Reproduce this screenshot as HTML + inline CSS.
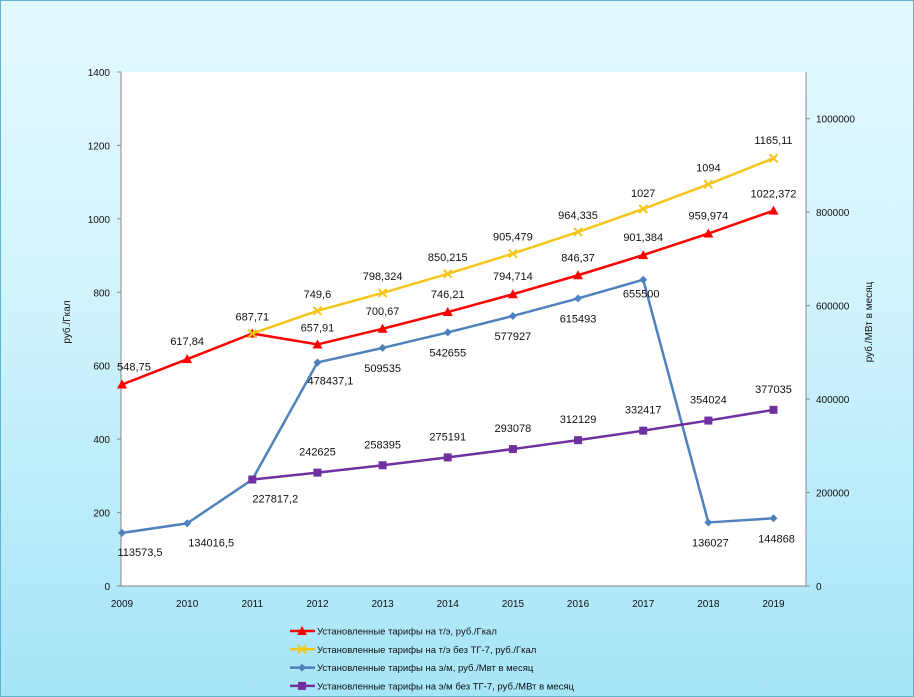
<!DOCTYPE html>
<html><head><meta charset="utf-8"><style>
html,body{margin:0;padding:0;}
body{width:914px;height:697px;overflow:hidden;font-family:"Liberation Sans","DejaVu Sans",sans-serif;}
#wrap{position:absolute;left:0;top:0;width:912px;height:695px;border:1px solid #5fb4cf;background:linear-gradient(#e3f9fe,#d3f4fd 40%,#a6e5f8);}
</style></head><body>
<div id="wrap">
<svg id="chart" width="914" height="697" style="position:absolute;left:-1px;top:-1px"></svg>
</div>
<script>
const years=["2009","2010","2011","2012","2013","2014","2015","2016","2017","2018","2019"];
const redVals=[548.75,617.84,687.71,657.91,700.67,746.21,794.714,846.37,901.384,959.974,1022.372];
const redLabels=["548,75","617,84","687,71","657,91","700,67","746,21","794,714","846,37","901,384","959,974","1022,372"];
const yellowVals=[null,null,687.71,749.6,798.324,850.215,905.479,964.335,1027,1094,1165.11];
const yellowLabels=["","","","749,6","798,324","850,215","905,479","964,335","1027","1094","1165,11"];
const blueVals=[113573.5,134016.5,227817.2,478437.1,509535,542655,577927,615493,655500,136027,144868];
const blueLabels=["113573,5","134016,5","227817,2","478437,1","509535","542655","577927","615493","655500","136027","144868"];
const purpleVals=[null,null,227817.2,242625,258395,275191,293078,312129,332417,354024,377035];
const purpleLabels=["","","","242625","258395","275191","293078","312129","332417","354024","377035"];
const leftTicks=[0,200,400,600,800,1000,1200,1400];
const rightTicks=[0,200000,400000,600000,800000,1000000];
const legendNames=["Установленные тарифы на т/э, руб./Гкал","Установленные тарифы на т/э без ТГ-7, руб./Гкал","Установленные тарифы на э/м, руб./Мвт в месяц","Установленные тарифы на э/м без ТГ-7, руб./МВт в месяц"];

const NS="http://www.w3.org/2000/svg";
const svg=document.getElementById('chart');
const PL=121,PR=806,PT=72,PB=586;
const x=i=>122+i*65.15;
const yL=v=>PB-(v/1400)*(PB-PT);
const yR=v=>PB-(v/1100000)*(PB-PT);
function mk(tag,attrs,parent){const e=document.createElementNS(NS,tag);for(const k in attrs)e.setAttribute(k,attrs[k]);(parent||svg).appendChild(e);return e;}
function txt(s,xx,yy,anchor,size,parent){const t=mk('text',{x:xx,y:yy,'text-anchor':anchor,'font-size':size,fill:'#111'},parent);t.textContent=s;return t;}

const plot=mk('rect',{x:PL,y:PT,width:PR-PL,height:PB-PT,fill:'#fff',stroke:'none'});


mk('line',{x1:PL,y1:PT,x2:PL,y2:PB,stroke:'#888'});
mk('line',{x1:PR,y1:PT,x2:PR,y2:PB,stroke:'#888'});
mk('line',{x1:PL,y1:PB,x2:PR,y2:PB,stroke:'#888'});

const gl=mk('g',{});


leftTicks.forEach(v=>{mk('line',{x1:PL-4,y1:yL(v),x2:PL,y2:yL(v),stroke:'#888'},gl);txt(String(v),110,yL(v)+4,'end',10,gl);});
const gr=mk('g',{});


rightTicks.forEach(v=>{mk('line',{x1:PR,y1:yR(v),x2:PR+4,y2:yR(v),stroke:'#888'},gr);txt(String(v),816,yR(v)+4,'start',10,gr);});
const gx=mk('g',{});


years.forEach((yv,i)=>txt(yv,x(i),607,'middle',10,gx));

const lt=txt('руб./Гкал',0,0,'middle',10);
lt.setAttribute('transform','translate(70,322) rotate(-90)');


const rt=txt('руб./МВт в месяц',0,0,'middle',10);
rt.setAttribute('transform','translate(872,322) rotate(-90)');



function marker(type,cx,cy,color,parent){
  if(type==='tri')return mk('path',{d:`M${cx},${cy-5} L${cx+5},${cy+4} L${cx-5},${cy+4} Z`,fill:color},parent);
  if(type==='x'){const g=mk('g',{stroke:color,'stroke-width':2},parent);mk('line',{x1:cx-4,y1:cy-4,x2:cx+4,y2:cy+4},g);mk('line',{x1:cx-4,y1:cy+4,x2:cx+4,y2:cy-4},g);return g;}
  if(type==='dia')return mk('path',{d:`M${cx},${cy-4} L${cx+4},${cy} L${cx},${cy+4} L${cx-4},${cy} Z`,fill:color},parent);
  return mk('rect',{x:cx-4,y:cy-4,width:8,height:8,fill:color},parent);
}
const redDy=[-18,-18,-17,-17,-18,-18,-18,-18,-18,-18,-17];
const redDx=[12,0,0,0,0,0,0,0,0,0,0];
const yellowDy=[0,0,0,-17,-17,-17,-17,-17,-16,-17,-18];
const blueDy=[19,19,19,18,20,20,20,20,14,20,20];
const blueDx=[18,24,23,13,0,0,0,0,-2,2,3];
const purpleDy=[0,0,0,-21,-21,-21,-21,-21,-21,-21,-21];
const zero=[0,0,0,0,0,0,0,0,0,0,0];
const series=[
 {name:'series-red',vals:redVals,labels:redLabels,color:'#ff0000',m:'tri',ys:yL,dy:redDy,dx:redDx},
 {name:'series-yellow',vals:yellowVals,labels:yellowLabels,color:'#f5c518',m:'x',ys:yL,dy:yellowDy,dx:zero},
 {name:'series-blue',vals:blueVals,labels:blueLabels,color:'#4f81bd',m:'dia',ys:yR,dy:blueDy,dx:blueDx},
 {name:'series-purple',vals:purpleVals,labels:purpleLabels,color:'#7030a0',m:'sq',ys:yR,dy:purpleDy,dx:zero}
];
series.forEach(s=>{
  const g=mk('g',{});
  
  
  let d='';
  s.vals.forEach((v,i)=>{if(v==null)return;d+=(d?'L':'M')+x(i)+','+s.ys(v)+' ';});
  mk('path',{d:d,fill:'none',stroke:s.color,'stroke-width':2.5,'stroke-linejoin':'round'},g);
  s.vals.forEach((v,i)=>{if(v==null)return;const m=marker(s.m,x(i),s.ys(v),s.color,g);
    
    });
  s.labels.forEach((l,i)=>{if(!l||s.vals[i]==null)return;
    const t=txt(l,x(i)+s.dx[i],s.ys(s.vals[i])+s.dy[i]+4,'middle',11,g);
    
    });
});

const lg=mk('g',{});


legendNames.forEach((n,i)=>{
  const yy=631+i*18.3;const s=series[i];
  const e=mk('g',{},lg);
  
  
  mk('line',{x1:290,y1:yy,x2:315,y2:yy,stroke:s.color,'stroke-width':2.5},e);
  marker(s.m,302,yy,s.color,e);
  txt(n,317,yy+3.5,'start',9.5,e);
});
</script>
</body></html>
